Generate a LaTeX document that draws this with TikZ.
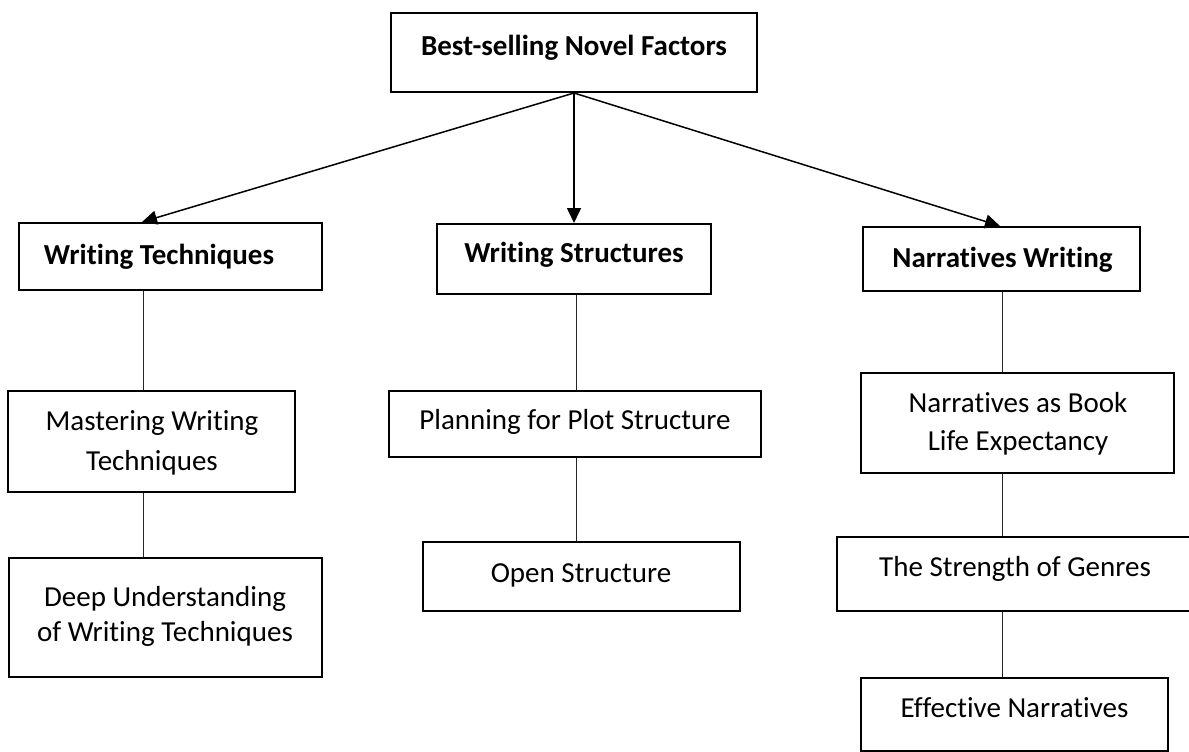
\documentclass[tikz,border=0pt]{standalone}
\usepackage{fontspec}
\setmainfont[Ligatures=NoCommon]{Carlito}
\usetikzlibrary{arrows.meta}
\begin{document}
\begin{tikzpicture}[x=1pt,y=-1pt,
  boxnode/.style={draw, line width=2pt, inner sep=0pt, rectangle},
  txt/.style={inner sep=0pt, font=\fontsize{29}{38}\selectfont, align=center},
  btxt/.style={inner sep=0pt, font=\fontsize{29}{38}\selectfont\bfseries, align=center},
  arr/.style={line width=1.5pt, -{Triangle[length=15pt,width=14pt]}},
  link/.style={line width=1pt, draw=black!85}]
\useasboundingbox (0,0) rectangle (1189,752);
% boxes
\node[boxnode, minimum width=366pt, minimum height=79pt] (top) at (574,52.5) {};
\node[boxnode, minimum width=303pt, minimum height=67pt] (wt) at (170.5,256.5) {};
\node[boxnode, minimum width=274pt, minimum height=70pt] (ws) at (574,259) {};
\node[boxnode, minimum width=277pt, minimum height=64pt] (nw) at (1001.5,259) {};
\node[boxnode, minimum width=287pt, minimum height=101pt] (mast) at (151.5,441.5) {};
\node[boxnode, minimum width=313pt, minimum height=119pt] (deep) at (165.5,617.5) {};
\node[boxnode, minimum width=372pt, minimum height=66pt] (plan) at (575,424) {};
\node[boxnode, minimum width=317pt, minimum height=69pt] (open) at (581.5,576.5) {};
\node[boxnode, minimum width=313pt, minimum height=100pt] (book) at (1017.5,423) {};
\node[boxnode, minimum width=358pt, minimum height=74pt] (str) at (1016,574) {};
\node[boxnode, minimum width=307pt, minimum height=73pt] (eff) at (1014.5,714.5) {};
% texts
\node[btxt, anchor=base] (ttop) at (574,56) {Best-selling Novel Factors};
\node[btxt, anchor=base] (twt) at (159,264) {Writing Techniques};
\node[btxt, anchor=base] (tws) at (574,262) {Writing Structures};
\node[btxt, anchor=base] (tnw) at (1002.5,267) {Narratives Writing};
\node[txt, font=\fontsize{29}{40}\selectfont] (tmast) at (152,443) {Mastering Writing\\Techniques};
\node[txt, font=\fontsize{29}{35}\selectfont] (tdeep) at (165,616.5) {Deep Understanding\\of Writing Techniques};
\node[txt, anchor=base] (tplan) at (575,429) {Planning for Plot Structure};
\node[txt, anchor=base] (topen) at (581,582) {Open Structure};
\node[txt, font=\fontsize{29}{38}\selectfont] (tbook) at (1018,424) {Narratives as Book\\Life Expectancy};
\node[txt, anchor=base] (tstr) at (1015,576) {The Strength of Genres};
\node[txt, anchor=base] (teff) at (1014.5,717) {Effective Narratives};
% column coordinates
\coordinate (cL) at (143,0);
\coordinate (cM) at (576,0);
\coordinate (cR) at (1002.5,0);
% arrows
\draw[arr] (top.south) -- ([xshift=-28.5pt]wt.north);
\draw[arr] (top.south) -- (ws.north);
\draw[arr] (top.south) -- ([xshift=-1.5pt]nw.north);
% links
\draw[link] (wt.south -| cL) -- (mast.north -| cL);
\draw[link] (mast.south -| cL) -- (deep.north -| cL);
\draw[link] (ws.south -| cM) -- (plan.north -| cM);
\draw[link] (plan.south -| cM) -- (open.north -| cM);
\draw[link] (nw.south -| cR) -- (book.north -| cR);
\draw[link] (book.south -| cR) -- (str.north -| cR);
\draw[link] (str.south -| cR) -- (eff.north -| cR);
\end{tikzpicture}
\end{document}
